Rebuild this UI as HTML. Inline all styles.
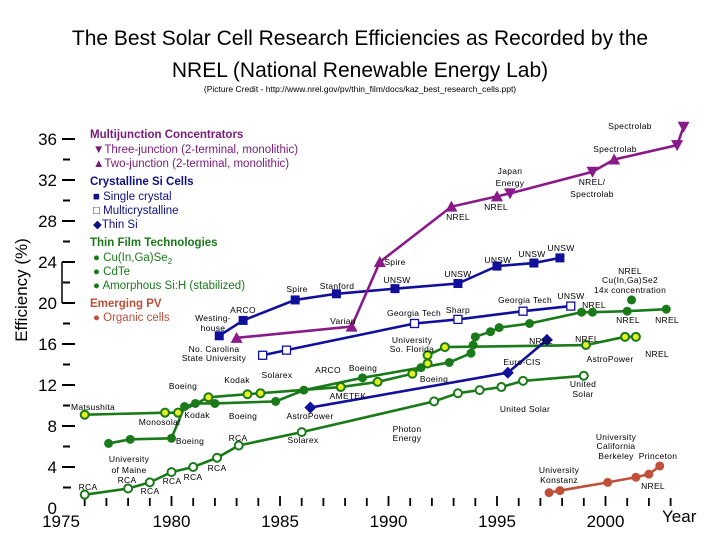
<!DOCTYPE html>
<html><head><meta charset="utf-8"><style>
html,body{margin:0;padding:0;background:#fff;}
svg{display:block;font-family:"Liberation Sans",sans-serif;}
.ann{font-size:8.5px;fill:#000;text-anchor:middle;letter-spacing:0.3px;}
</style></head><body>
<svg id="chart" width="720" height="540" viewBox="0 0 720 540">
<text x="360" y="45" font-size="21" text-anchor="middle">The Best Solar Cell Research Efficiencies as Recorded by the</text>
<text x="360" y="77" font-size="21" text-anchor="middle">NREL (National Renewable Energy Lab)</text>
<text x="360" y="92" font-size="8.5" text-anchor="middle">(Picture Credit - http://www.nrel.gov/pv/thin_film/docs/kaz_best_research_cells.ppt)</text>
<text transform="translate(27,290) rotate(-90)" font-size="17" text-anchor="middle">Efficiency (%)</text>
<text x="662" y="522" font-size="17">Year</text>
<g id="axes"></g>
<g id="legend" font-size="11.5">
<text x="90" y="138" font-weight="bold" fill="#7a1a7a">Multijunction Concentrators</text>
<text x="93" y="153" fill="#7a1a7a">▼Three-junction (2-terminal, monolithic)</text>
<text x="93" y="167" fill="#7a1a7a">▲Two-junction (2-terminal, monolithic)</text>
<text x="90" y="185" font-weight="bold" fill="#101080">Crystalline Si Cells</text>
<text x="93" y="200" fill="#101080">■ Single crystal</text>
<text x="93" y="214" fill="#101080">□ Multicrystalline</text>
<text x="93" y="228" fill="#101080">◆Thin Si</text>
<text x="90" y="246" font-weight="bold" fill="#1a7a1a">Thin Film Technologies</text>
<text x="93" y="261" fill="#1a7a1a">● Cu(In,Ga)Se<tspan font-size="8" dy="3">2</tspan></text>
<text x="93" y="275" fill="#1a7a1a">● CdTe</text>
<text x="93" y="289" fill="#1a7a1a">● Amorphous Si:H (stabilized)</text>
<text x="90" y="307" font-weight="bold" fill="#b8503a">Emerging PV</text>
<text x="93" y="321" fill="#b8503a">● Organic cells</text>
</g>
<g id="series"></g>
<g id="annotations"></g>
</svg>
<script>
// ---- data ----
const purpleYears=[1983.0,1988.3,1989.6,1992.9,1995.0,1995.6,1999.4,2000.4,2003.3,2003.6];
const purpleEff=[16.6,17.7,24.0,29.4,30.4,30.7,32.8,34.0,35.4,37.2];
const purpleMarkers=['up','up','up','up','up','down','down','up','down','down'];
const scYears=[1982.2,1983.3,1985.7,1987.6,1990.3,1993.2,1995.0,1996.7,1997.9];
const scEff=[16.8,18.3,20.3,20.9,21.4,21.9,23.6,23.9,24.4];
const mcYears=[1984.2,1985.3,1991.2,1993.2,1996.2,1998.4];
const mcEff=[14.9,15.4,18.0,18.4,19.2,19.7];
const tsYears=[1986.4,1995.5,1997.3];
const tsEff=[9.8,13.2,16.4];
const cigsYears=[1977.1,1978.1,1980.0,1980.6,1981.1,1982.0,1984.8,1986.1,1988.8,1991.5,1992.8,1993.8,1993.9,1994.0,1994.7,1995.1,1996.5,1998.9,1999.4,2001.0,2002.8];
const cigsEff=[6.3,6.7,6.8,9.9,10.2,10.2,10.4,11.5,12.7,13.7,14.2,15.1,15.9,16.7,17.2,17.6,18.0,19.1,19.1,19.2,19.4];
const cigsConcYears=[2001.2];
const cigsConcEff=[20.3];
const cdteYears=[1976.0,1979.7,1980.3,1981.7,1983.5,1984.1,1987.8,1989.5,1991.1,1991.8,1991.8,1992.6,1999.1,2000.9,2001.4];
const cdteEff=[9.1,9.3,9.3,10.8,11.1,11.2,11.8,12.3,13.1,14.1,14.9,15.7,15.9,16.7,16.7];
const asiYears=[1976.0,1978.0,1979.0,1980.0,1981.0,1982.1,1983.1,1986.0,1992.1,1993.2,1994.2,1995.2,1996.2,1999.0];
const asiEff=[1.3,1.9,2.5,3.5,4.0,4.9,6.1,7.4,10.4,11.2,11.5,11.8,12.4,12.9];
const orgYears=[1997.4,1997.9,2000.1,2001.4,2002.0,2002.5];
const orgEff=[1.5,1.7,2.5,3.0,3.3,4.1];
const yTickLabels=['0','4','8','12','16','20','24','28','32','36'];
const xTickLabels=['1975','1980','1985','1990','1995','2000'];

// ---- axis functions ----
const X=yr=>63+21.7*(yr-1975);
const Y=v=>508-10.25*v;
const NS='http://www.w3.org/2000/svg';
function mk(tag,attrs,parent){const e=document.createElementNS(NS,tag);for(const k in attrs)e.setAttribute(k,attrs[k]);parent.appendChild(e);return e;}

const axes=document.getElementById('axes');
yTickLabels.forEach(l=>{
  const v=+l, y=Y(v);
  const t=mk('text',{x:57,y:y+6,'font-size':17,'text-anchor':'end'},axes);t.textContent=l;
  
  
  if(v>0){const d=mk('line',{x1:62,x2:75,y1:y,y2:y,stroke:'#000','stroke-width':2},axes);
  
  }
  if(v<36){const m=mk('line',{x1:63,x2:70,y1:Y(v+2),y2:Y(v+2),stroke:'#000','stroke-width':2},axes);
  
  }
});
const br=mk('line',{x1:62,x2:62,y1:Y(24),y2:Y(20),stroke:'#000','stroke-width':1.5},axes);


for(let yr=1976;yr<=2003;yr++){
  const maj=yr%5===0;
  const tk=mk('line',{x1:X(yr),x2:X(yr),y1:maj?496:498,y2:506,stroke:'#000','stroke-width':1.8},axes);
  
  
}
xTickLabels.forEach(l=>{
  const t=mk('text',{x:X(+l)-(l==='1975'?2:0),y:527,'font-size':17,'text-anchor':'middle'},axes);t.textContent=l;
  
  
});
const zero=mk('line',{x1:63,x2:71,y1:Y(2),y2:Y(2),stroke:'#000','stroke-width':2},axes);

const ser=document.getElementById('series');
function line(xs,ys,color,name){
  const p=mk('polyline',{points:xs.map((x,i)=>X(x)+','+Y(ys[i])).join(' '),fill:'none',stroke:color,'stroke-width':2.6},ser);
  
  
}
function marker(type,x,y,color,name){
  let e;
  const cx=X(x),cy=Y(y);
  if(type==='sq') e=mk('rect',{x:cx-4.5,y:cy-4.5,width:9,height:9,fill:color},ser);
  else if(type==='osq') e=mk('rect',{x:cx-4,y:cy-4,width:8,height:8,fill:'#fff',stroke:color,'stroke-width':1.3},ser);
  else if(type==='dia') e=mk('polygon',{points:`${cx},${cy-6} ${cx+6},${cy} ${cx},${cy+6} ${cx-6},${cy}`,fill:color},ser);
  else if(type==='up') e=mk('polygon',{points:`${cx},${cy-6} ${cx+6},${cy+5} ${cx-6},${cy+5}`,fill:color},ser);
  else if(type==='down') e=mk('polygon',{points:`${cx-6},${cy-5} ${cx+6},${cy-5} ${cx},${cy+6}`,fill:color},ser);
  else if(type==='dot') e=mk('circle',{cx,cy,r:4.5,fill:color},ser);
  else if(type==='ydot') e=mk('circle',{cx,cy,r:4,fill:'#e4f020',stroke:color,'stroke-width':2},ser);
  else if(type==='odot') e=mk('circle',{cx,cy,r:4,fill:'#fff',stroke:color,'stroke-width':2},ser);
  
  
}
const PUR='#8a1a8a',BLU='#10109a',GRN='#1a7a1a',ORG='#c0503a';
line(asiYears,asiEff,GRN,'amorphous-si-line');
asiYears.forEach((x,i)=>marker('odot',x,asiEff[i],GRN,'amorphous-si-point'));
line(cigsYears,cigsEff,GRN,'cigs-line');
line(cdteYears,cdteEff,GRN,'cdte-line');
cigsYears.forEach((x,i)=>marker('dot',x,cigsEff[i],GRN,'cigs-point'));
cigsConcYears.forEach((x,i)=>marker('dot',x,cigsConcEff[i],GRN,'cigs-concentration-point'));
cdteYears.forEach((x,i)=>marker('ydot',x,cdteEff[i],GRN,'cdte-point'));
line(orgYears,orgEff,ORG,'organic-line');
orgYears.forEach((x,i)=>marker('dot',x,orgEff[i],ORG,'organic-point'));
line(tsYears,tsEff,BLU,'thin-si-line');
tsYears.forEach((x,i)=>marker('dia',x,tsEff[i],BLU,'thin-si-point'));
line(mcYears,mcEff,BLU,'multicrystalline-line');
mcYears.forEach((x,i)=>marker('osq',x,mcEff[i],BLU,'multicrystalline-point'));
line(scYears,scEff,BLU,'single-crystal-line');
scYears.forEach((x,i)=>marker('sq',x,scEff[i],BLU,'single-crystal-point'));
line(purpleYears,purpleEff,PUR,'multijunction-line');
purpleYears.forEach((x,i)=>marker(purpleMarkers[i],x,purpleEff[i],PUR,'multijunction-point'));

// annotations
const anns=[["Spectrolab",630,129],["Spectrolab",615,152],["Japan",510,174],["Energy",510,186],["NREL/",592,185],["Spectrolab",592,197],["NREL",458,220],["NREL",496,210],["Spire",395,265],["Varian",343,324],["Spire",297,292],["Stanford",337,289],["UNSW",397,283],["UNSW",458,277],["UNSW",498,263],["UNSW",532,257],["UNSW",561,251],["NREL",630,274],["Cu(In,Ga)Se2",630,283],["14x concentration",630,293],["Georgia Tech",525,303],["UNSW",571,299],["NREL",594,308],["NREL",628,323],["NREL",667,323],["Georgia Tech",414,316],["Sharp",458,313],["Westing-",213,321],["house",213,331],["ARCO",243,313],["No. Carolina",214,352],["State University",214,361],["Solarex",277,378],["University",412,343],["So. Florida",412,352],["NREL",541,344],["NREL",587,342],["NREL",657,357],["Euro-CIS",522,365],["AstroPower",610,362],["ARCO",328,373],["Boeing",363,371],["Boeing",434,382],["AMETEK",348,399],["United",583,387],["Solar",583,397],["United Solar",525,412],["Photon",407,432],["Energy",407,441],["Kodak",237,383],["Boeing",183,389],["Matsushita",93,410],["Monosolar",160,425],["Kodak",197,418],["Boeing",243,419],["AstroPower",310,419],["Boeing",190,444],["RCA",238,441],["Solarex",303,443],["University",129,462],["of Maine",129,473],["RCA",88,490],["RCA",127,483],["RCA",150,494],["RCA",172,484],["RCA",193,480],["RCA",217,471],["University",616,440],["California",616,449],["Berkeley",616,459],["Princeton",658,459],["University",559,473],["Konstanz",559,483],["NREL",653,489]];
const ag=document.getElementById('annotations');
anns.forEach(a=>{
  const t=mk('text',{x:a[1],y:a[2],class:'ann'},ag);t.textContent=a[0];
  
  
});
</script>
</body></html>
